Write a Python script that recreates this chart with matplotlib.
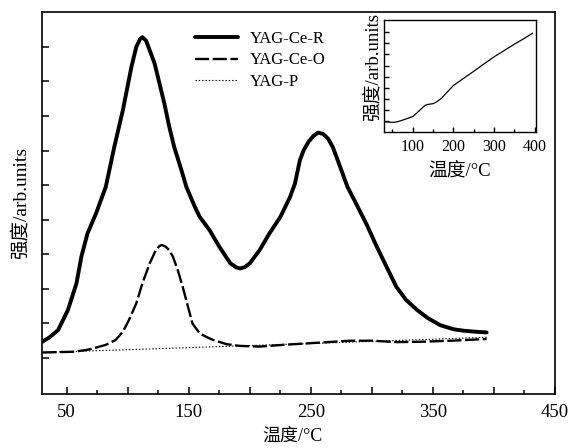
import matplotlib
matplotlib.use("Agg")
import matplotlib.pyplot as plt
from matplotlib.ticker import MultipleLocator, FixedLocator, FixedFormatter

plt.rcParams['font.family'] = ['Liberation Serif', 'Noto Sans CJK SC']

# --- Main chart data (temperature °C, intensity arb. units) ---
r_temp = [30, 36, 43, 51, 58, 62, 67, 74, 82, 89, 96, 103, 107, 110, 112, 115, 118, 122,
          126, 130, 134, 138, 144, 148, 155, 159, 167, 175, 184, 189, 192, 196, 200,
          208, 216, 225, 233, 237, 241, 244, 248, 252, 256, 260, 264, 268, 272, 280,
          287, 296, 304, 312, 320, 328, 337, 346, 356, 367, 375, 385, 394]
r_int = [1.47, 1.60, 1.81, 2.39, 3.16, 3.93, 4.60, 5.18, 5.95, 7.11, 8.17, 9.42, 10.0,
         10.22, 10.28, 10.18, 9.90, 9.52, 8.94, 8.36, 7.69, 7.11, 6.43, 5.95, 5.37,
         5.08, 4.70, 4.22, 3.74, 3.62, 3.59, 3.63, 3.74, 4.12, 4.60, 5.08, 5.66, 6.05,
         6.72, 7.00, 7.25, 7.42, 7.52, 7.48, 7.35, 7.10, 6.72, 5.95, 5.47, 4.84, 4.22,
         3.64, 3.06, 2.68, 2.39, 2.15, 1.95, 1.83, 1.79, 1.76, 1.74]

o_temp = [30, 55, 66, 74, 82, 90, 96, 101, 107, 112, 118, 123, 126, 128, 131, 134, 137,
          141, 145, 149, 153, 159, 165, 170, 181, 192, 208, 227, 255, 282, 300, 320,
          340, 365, 394]
o_int = [1.16, 1.18, 1.23, 1.30, 1.38, 1.52, 1.76, 2.10, 2.58, 3.16, 3.74, 4.12, 4.24,
         4.27, 4.22, 4.12, 3.93, 3.54, 3.06, 2.53, 2.00, 1.71, 1.60, 1.52, 1.40, 1.35,
         1.33, 1.38, 1.44, 1.50, 1.50, 1.46, 1.47, 1.50, 1.55]

p_temp = [30, 100, 200, 300, 394]
p_int = [1.16, 1.24, 1.36, 1.48, 1.60]

# --- Inset data ---
in_temp = [30, 44, 56, 66, 77, 88, 100, 107, 114, 122, 130, 136, 142, 151, 160, 171,
           185, 200, 225, 249, 275, 301, 325, 350, 372, 394]
in_int = [0.95, 0.91, 0.90, 0.98, 1.11, 1.25, 1.41, 1.62, 1.86, 2.13, 2.40, 2.50, 2.53,
          2.58, 2.76, 3.06, 3.62, 4.20, 4.85, 5.46, 6.15, 6.81, 7.36, 7.93, 8.40, 8.90]

series_labels = ['YAG-Ce-R', 'YAG-Ce-O', 'YAG-P']
xlabel = '温度/°C'
ylabel = '强度/arb.units'
x_major = [50, 100, 150, 200, 250, 300, 350, 400, 450]
x_major_labels = ['50', '', '150', '', '250', '', '350', '', '450']
in_x_major = [100, 200, 300, 400]

W, H = 569, 448
fig = plt.figure(figsize=(W / 100, H / 100), dpi=100)

ax = fig.add_axes([42.3 / W, 1 - 394.3 / H, (555 - 42.3) / W, (394.3 - 12.3) / H])
ax.plot(r_temp, r_int, color='black', lw=2.8, solid_joinstyle='round',
        solid_capstyle='round', label=series_labels[0])
ax.plot(o_temp, o_int, color='black', lw=1.7, dashes=(6, 1.5), label=series_labels[1])
ax.plot(p_temp, p_int, color='black', lw=0.8, dashes=(1.2, 1.8), label=series_labels[2])

ax.set_xlim(30, 450)
ax.set_ylim(-0.05, 11.0)
ax.xaxis.set_major_locator(FixedLocator(x_major))
ax.xaxis.set_major_formatter(FixedFormatter(x_major_labels))
ax.xaxis.set_minor_locator(MultipleLocator(25))
ax.yaxis.set_major_locator(FixedLocator(list(range(1, 11))))
ax.set_yticklabels([])
ax.tick_params(axis='both', which='major', direction='in', length=5, width=1.1,
               labelsize=13.5, pad=7)
ax.tick_params(axis='x', which='minor', direction='in', length=3, width=1.1)
ax.tick_params(axis='y', which='minor', left=False)
for s in ax.spines.values():
    s.set_linewidth(1.2)
ax.set_xlabel(xlabel, fontsize=13)
ax.xaxis.set_label_coords(0.487, -0.088)
ax.set_ylabel(ylabel, fontsize=14)
ax.yaxis.set_label_coords(-0.024, 0.5)

leg = ax.legend(loc='upper left',
                bbox_to_anchor=((188 - 42.3) / (555 - 42.3), 1 - (24 - 12.3) / (394.3 - 12.3)),
                frameon=False, fontsize=12, handlelength=2.6, handletextpad=0.7,
                labelspacing=0.35, borderaxespad=0)

# --- Inset ---
axi = fig.add_axes([384 / W, 1 - 132.3 / H, (535.7 - 384) / W, (132.3 - 20) / H])
axi.plot(in_temp, in_int, color='black', lw=0.9)
axi.set_xlim(30, 402)
axi.set_ylim(0, 10.1)
axi.xaxis.set_major_locator(FixedLocator(in_x_major))
axi.xaxis.set_minor_locator(MultipleLocator(50))
axi.yaxis.set_major_locator(FixedLocator(list(range(1, 10))))
axi.set_yticklabels([])
axi.tick_params(axis='both', which='major', direction='in', length=3.5, width=1.0,
                labelsize=11.5, pad=5)
axi.tick_params(axis='x', which='minor', direction='in', length=2.5, width=1.0)
for s in axi.spines.values():
    s.set_linewidth(1.0)
axi.set_xlabel(xlabel, fontsize=13.5, labelpad=6)
axi.set_ylabel(ylabel, fontsize=13.5)
axi.yaxis.set_label_coords(-0.01, 0.58)

fig.savefig('out.png', dpi=100)
